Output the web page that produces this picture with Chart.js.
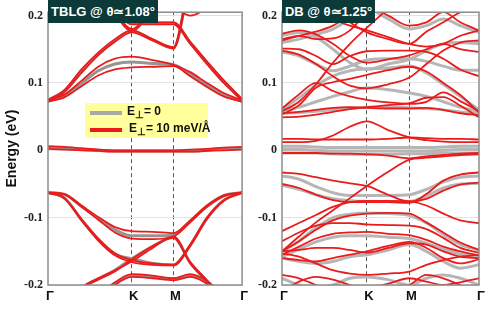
<!DOCTYPE html>
<html>
<head>
<meta charset="utf-8">
<script src="https://cdn.jsdelivr.net/npm/chart.js@4.4.0/dist/chart.umd.min.js"></script>
<style>
body{margin:0;background:#fff;font-family:"Liberation Sans",Arial,sans-serif;}
#wrap{position:relative;width:490px;height:309px;overflow:hidden;}
canvas{position:absolute;top:0;}
.tag{position:absolute;top:0;height:23px;line-height:23px;background:#0c3a38;color:#fff;font-weight:bold;font-size:13px;text-align:center;white-space:nowrap;}
#legend{position:absolute;left:85px;top:103px;width:123px;height:35px;background:#ffff9c;font-weight:bold;font-size:12px;color:#111;}
#legend .ln{position:absolute;left:5px;width:32px;height:4px;}
#legend .tx{position:absolute;left:42px;white-space:nowrap;}
#legend sub{font-size:10px;vertical-align:-3px;line-height:0;}
</style>
</head>
<body>
<div id="wrap">
  <canvas id="tblg" width="250" height="309" style="left:0"></canvas>
  <canvas id="db" width="240" height="309" style="left:250px"></canvas>
  <div class="tag" style="left:48px;width:110px">TBLG @ θ≃1.08°</div>
  <div class="tag" style="left:282px;width:93px">DB @ θ≃1.25°</div>
  <div id="legend">
    <div class="ln" style="top:8px;background:#a8a8a8"></div>
    <div class="tx" style="top:1px">E<sub>⊥</sub>= 0</div>
    <div class="ln" style="top:25px;background:#ec1b1b"></div>
    <div class="tx" style="top:18px;left:44px">E<sub>⊥</sub>= 10 meV/Å</div>
  </div>
</div>
<script>
// k path: Γ - K - M - Γ
var kPath = [0, 0.2, 0.4, 0.6, 0.8, 1.0, 1.25, 1.5, 1.7, 1.9, 2.1, 2.32];
var kTicks = [0, 1, 1.5, 2.32];
var kLabels = ['Γ', 'K', 'M', 'Γ'];
var eTicks = [-0.2, -0.1, 0, 0.1, 0.2];

// TBLG, E = 10 meV/A (red)
var tblgRed = [
  [0.006, 0.005, 0.003, 0.001, 0.000, 0.000, 0.000, 0.000, 0.001, 0.002, 0.004, 0.005],
  [0.002, 0.001, 0.000, -0.001, -0.002, -0.002, -0.002, -0.002, -0.002, -0.001, 0.000, 0.001],
  [0.074, 0.083, 0.103, 0.124, 0.136, 0.139, 0.134, 0.127, 0.116, 0.100, 0.085, 0.074],
  [0.072, 0.079, 0.095, 0.111, 0.120, 0.123, 0.124, 0.125, 0.110, 0.094, 0.080, 0.072],
  [0.075, 0.090, 0.120, 0.145, 0.165, 0.178, 0.165, 0.153, 0.260, 0.330, 0.400, 0.450],
  [0.073, 0.087, 0.115, 0.141, 0.161, 0.175, 0.163, 0.151, 0.250, 0.320, 0.390, 0.440],
  [0.320, 0.290, 0.260, 0.235, 0.210, 0.190, 0.190, 0.190, 0.161, 0.132, 0.104, 0.076],
  [0.310, 0.280, 0.255, 0.230, 0.205, 0.187, 0.187, 0.187, 0.158, 0.128, 0.100, 0.074],
  [0.400, 0.350, 0.300, 0.250, 0.207, 0.180, 0.215, 0.260, 0.300, 0.350, 0.400, 0.450],
  [0.380, 0.330, 0.290, 0.245, 0.203, 0.177, 0.210, 0.255, 0.295, 0.345, 0.395, 0.445],
  [0.400, 0.350, 0.300, 0.260, 0.240, 0.230, 0.220, 0.212, 0.200, 0.215, 0.260, 0.300],
  [-0.0625, -0.065, -0.082, -0.099, -0.114, -0.120, -0.121, -0.123, -0.104, -0.082, -0.067, -0.0625],
  [-0.063, -0.066, -0.084, -0.103, -0.122, -0.131, -0.132, -0.128, -0.107, -0.084, -0.068, -0.063],
  [-0.0625, -0.071, -0.102, -0.131, -0.153, -0.163, -0.168, -0.170, -0.140, -0.100, -0.074, -0.063],
  [-0.063, -0.072, -0.104, -0.134, -0.156, -0.166, -0.170, -0.171, -0.142, -0.102, -0.075, -0.063],
  [-0.260, -0.235, -0.204, -0.190, -0.178, -0.165, -0.145, -0.128, -0.166, -0.193, -0.220, -0.245],
  [-0.262, -0.237, -0.206, -0.192, -0.180, -0.162, -0.142, -0.130, -0.168, -0.195, -0.222, -0.247],
  [-0.300, -0.270, -0.240, -0.215, -0.196, -0.184, -0.186, -0.190, -0.184, -0.194, -0.215, -0.240],
  [-0.310, -0.280, -0.250, -0.222, -0.200, -0.188, -0.190, -0.193, -0.188, -0.198, -0.220, -0.245]
];
// TBLG, E = 0 (gray)
var tblgGray = [
  [0.004, 0.003, 0.001, 0.000, -0.001, -0.001, -0.001, -0.001, -0.001, 0.000, 0.002, 0.003],
  [0.073, 0.081, 0.099, 0.118, 0.128, 0.131, 0.129, 0.127, 0.113, 0.097, 0.082, 0.073],
  [0.074, 0.088, 0.117, 0.143, 0.163, 0.177, 0.164, 0.152, 0.255, 0.325, 0.395, 0.445],
  [0.315, 0.285, 0.258, 0.233, 0.208, 0.189, 0.189, 0.189, 0.160, 0.130, 0.102, 0.075],
  [-0.0625, -0.0655, -0.083, -0.101, -0.118, -0.127, -0.127, -0.126, -0.105, -0.083, -0.0675, -0.0625],
  [-0.0625, -0.0715, -0.103, -0.132, -0.154, -0.161, -0.168, -0.170, -0.141, -0.101, -0.0745, -0.063],
  [-0.261, -0.236, -0.205, -0.191, -0.178, -0.161, -0.143, -0.129, -0.167, -0.194, -0.221, -0.246],
  [-0.305, -0.275, -0.245, -0.218, -0.198, -0.186, -0.188, -0.191, -0.186, -0.196, -0.217, -0.242]
];

// DB, E = 10 meV/A (red)
var dbRed = [
  [0.017, 0.017, 0.016, 0.016, 0.016, 0.016, 0.017, 0.019, 0.018, 0.017, 0.017, 0.016],
  [0.012, 0.012, 0.014, 0.022, 0.035, 0.043, 0.030, 0.019, 0.015, 0.013, 0.012, 0.012],
  [0.049, 0.050, 0.053, 0.057, 0.061, 0.064, 0.067, 0.070, 0.078, 0.079, 0.066, 0.049],
  [0.055, 0.057, 0.060, 0.063, 0.064, 0.063, 0.062, 0.062, 0.063, 0.060, 0.055, 0.052],
  [0.062, 0.083, 0.100, 0.088, 0.080, 0.075, 0.071, 0.069, 0.072, 0.086, 0.073, 0.058],
  [0.053, 0.067, 0.093, 0.101, 0.106, 0.112, 0.119, 0.124, 0.117, 0.100, 0.082, 0.056],
  [0.148, 0.142, 0.128, 0.110, 0.096, 0.092, 0.098, 0.108, 0.128, 0.148, 0.160, 0.163],
  [0.151, 0.150, 0.140, 0.128, 0.140, 0.147, 0.148, 0.148, 0.146, 0.136, 0.120, 0.110],
  [0.173, 0.178, 0.172, 0.158, 0.140, 0.130, 0.135, 0.141, 0.150, 0.158, 0.150, 0.146],
  [0.163, 0.170, 0.176, 0.185, 0.200, 0.215, 0.200, 0.185, 0.190, 0.205, 0.190, 0.178],
  [0.165, 0.170, 0.165, 0.166, 0.178, 0.205, 0.230, 0.250, 0.270, 0.290, 0.300, 0.310],
  [0.250, 0.230, 0.210, 0.195, 0.185, 0.178, 0.168, 0.158, 0.154, 0.158, 0.170, 0.178],
  [0.300, 0.270, 0.240, 0.210, 0.190, 0.175, 0.165, 0.158, 0.176, 0.190, 0.205, 0.215],
  [0.058, 0.072, 0.098, 0.130, 0.158, 0.182, 0.210, 0.235, 0.250, 0.260, 0.270, 0.280],
  [-0.004, -0.004, -0.004, -0.005, -0.005, -0.006, -0.008, -0.012, -0.009, -0.007, -0.005, -0.004],
  [-0.150, -0.128, -0.107, -0.089, -0.071, -0.053, -0.032, -0.014, -0.011, -0.009, -0.007, -0.006],
  [-0.033, -0.035, -0.040, -0.045, -0.049, -0.053, -0.066, -0.076, -0.072, -0.060, -0.051, -0.048],
  [-0.050, -0.056, -0.066, -0.074, -0.077, -0.077, -0.077, -0.078, -0.065, -0.045, -0.036, -0.033],
  [-0.120, -0.108, -0.096, -0.084, -0.077, -0.075, -0.075, -0.076, -0.082, -0.094, -0.104, -0.108],
  [-0.150, -0.135, -0.118, -0.104, -0.097, -0.094, -0.093, -0.094, -0.107, -0.122, -0.137, -0.148],
  [-0.135, -0.122, -0.112, -0.108, -0.108, -0.110, -0.111, -0.112, -0.117, -0.130, -0.145, -0.152],
  [-0.155, -0.143, -0.131, -0.124, -0.122, -0.121, -0.124, -0.126, -0.133, -0.143, -0.150, -0.156],
  [-0.150, -0.148, -0.145, -0.145, -0.148, -0.152, -0.145, -0.138, -0.140, -0.150, -0.158, -0.160],
  [-0.160, -0.163, -0.165, -0.160, -0.155, -0.150, -0.142, -0.136, -0.145, -0.160, -0.168, -0.162],
  [-0.153, -0.158, -0.168, -0.178, -0.183, -0.185, -0.183, -0.180, -0.170, -0.163, -0.158, -0.155],
  [-0.210, -0.195, -0.188, -0.192, -0.200, -0.205, -0.198, -0.190, -0.195, -0.200, -0.196, -0.190],
  [-0.185, -0.190, -0.200, -0.210, -0.215, -0.220, -0.210, -0.200, -0.185, -0.190, -0.200, -0.210]
];
// DB, E = 0 (gray)
var dbGray = [
  [0.006, 0.006, 0.005, 0.004, 0.004, 0.004, 0.004, 0.004, 0.004, 0.005, 0.006, 0.006],
  [0.001, 0.001, 0.000, -0.001, -0.001, -0.001, -0.001, -0.001, -0.001, 0.000, 0.001, 0.001],
  [-0.004, -0.004, -0.004, -0.005, -0.006, -0.006, -0.006, -0.005, -0.005, -0.004, -0.004, -0.004],
  [0.058, 0.064, 0.072, 0.080, 0.087, 0.093, 0.090, 0.085, 0.080, 0.072, 0.064, 0.058],
  [0.055, 0.056, 0.058, 0.060, 0.062, 0.064, 0.064, 0.063, 0.062, 0.060, 0.057, 0.055],
  [0.060, 0.078, 0.096, 0.110, 0.118, 0.121, 0.122, 0.125, 0.115, 0.098, 0.080, 0.060],
  [0.146, 0.140, 0.128, 0.118, 0.125, 0.134, 0.136, 0.136, 0.132, 0.125, 0.119, 0.119],
  [0.170, 0.175, 0.168, 0.150, 0.130, 0.120, 0.128, 0.135, 0.148, 0.158, 0.160, 0.158],
  [0.160, 0.165, 0.172, 0.180, 0.195, 0.210, 0.195, 0.180, 0.185, 0.195, 0.185, 0.175],
  [-0.038, -0.043, -0.054, -0.063, -0.067, -0.067, -0.067, -0.066, -0.058, -0.047, -0.040, -0.038],
  [-0.052, -0.058, -0.066, -0.072, -0.075, -0.076, -0.076, -0.076, -0.068, -0.056, -0.050, -0.049],
  [-0.150, -0.135, -0.115, -0.100, -0.095, -0.093, -0.094, -0.097, -0.108, -0.125, -0.140, -0.148],
  [-0.158, -0.147, -0.136, -0.129, -0.127, -0.127, -0.129, -0.131, -0.138, -0.147, -0.154, -0.159],
  [-0.160, -0.165, -0.168, -0.165, -0.158, -0.155, -0.148, -0.140, -0.150, -0.165, -0.175, -0.170],
  [-0.190, -0.200, -0.205, -0.200, -0.190, -0.188, -0.192, -0.200, -0.190, -0.185, -0.190, -0.200]
];

function toPoints(band) {
  return band.map(function (e, i) { return {x: kPath[i], y: e}; });
}

function bandSets(red, gray, grayColor) {
  var sets = [];
  red.forEach(function (b) {
    sets.push({data: toPoints(b), borderColor: '#ec1b1b', borderWidth: 1.8, order: 0});
  });
  gray.forEach(function (b) {
    sets.push({data: toPoints(b), borderColor: grayColor, borderWidth: 3, order: 1});
  });
  return sets;
}

// box around the plot area
var framePlugin = {
  id: 'frame',
  afterDraw: function (chart) {
    var a = chart.chartArea, c = chart.ctx;
    c.save();
    c.strokeStyle = '#8c8c8c';
    c.lineWidth = 1.5;
    c.strokeRect(a.left, a.top, a.right - a.left, a.bottom - a.top);
    c.restore();
  }
};

function makeChart(id, red, gray, grayColor, yWidth, padRight, showTitle) {
  var ctx = document.getElementById(id).getContext('2d');
  return new Chart(ctx, {
    type: 'line',
    data: {datasets: bandSets(red, gray, grayColor)},
    plugins: [framePlugin],
    options: {
      responsive: false,
      animation: false,
      events: [],
      layout: {padding: {top: 9, right: padRight, left: 0, bottom: 0}},
      elements: {point: {radius: 0}, line: {cubicInterpolationMode: 'monotone', fill: false}},
      plugins: {legend: {display: false}, tooltip: {enabled: false}},
      scales: {
        x: {
          type: 'linear', min: 0, max: 2.32,
          afterBuildTicks: function (s) { s.ticks = kTicks.map(function (v) { return {value: v}; }); },
          afterFit: function (s) { s.height = 24; },
          ticks: {
            autoSkip: false, maxRotation: 0, padding: 4, labelOffset: 2, color: '#111',
            font: {family: 'Liberation Sans', size: 13, weight: 'bold'},
            callback: function (v, i) { return kLabels[i]; }
          },
          grid: {
            drawTicks: false, lineWidth: 1,
            color: function (c) { return (c.index === 1 || c.index === 2) ? '#555' : 'rgba(0,0,0,0)'; }
          },
          border: {display: false, dash: [4, 3]}
        },
        y: {
          min: -0.2, max: 0.205,
          afterBuildTicks: function (s) { s.ticks = eTicks.map(function (v) { return {value: v}; }); },
          afterFit: function (s) { s.width = yWidth; },
          ticks: {
            padding: 5, color: '#222',
            font: {family: 'Liberation Serif', size: 12, weight: 'bold'},
            callback: function (v) { return v === 0 ? '0' : v.toFixed(1); }
          },
          grid: {drawTicks: false, color: '#e2e2e2', lineWidth: 1},
          border: {display: false},
          title: {
            display: showTitle, text: 'Energy (eV)', color: '#111',
            font: {family: 'Liberation Sans', size: 14, weight: 'bold'},
            padding: {top: 4, bottom: 0}
          }
        }
      }
    }
  });
}

makeChart('tblg', tblgRed, tblgGray, '#959595', 48, 5, true);
makeChart('db', dbRed, dbGray, '#b6b6b6', 32, 11, false);
</script>
</body>
</html>
